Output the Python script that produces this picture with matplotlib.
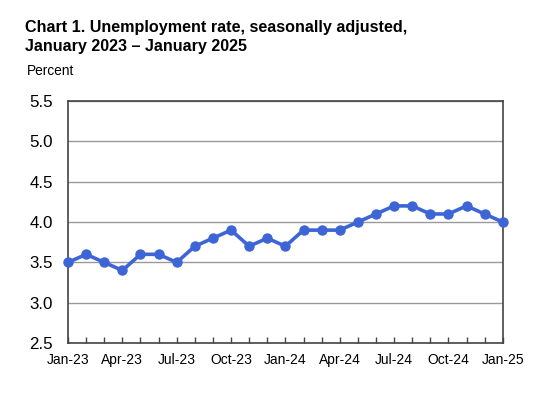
import matplotlib
matplotlib.use('Agg')
import matplotlib.pyplot as plt

months = ['Jan-23', 'Feb-23', 'Mar-23', 'Apr-23', 'May-23', 'Jun-23', 'Jul-23',
          'Aug-23', 'Sep-23', 'Oct-23', 'Nov-23', 'Dec-23', 'Jan-24', 'Feb-24',
          'Mar-24', 'Apr-24', 'May-24', 'Jun-24', 'Jul-24', 'Aug-24', 'Sep-24',
          'Oct-24', 'Nov-24', 'Dec-24', 'Jan-25']
rate = [3.5, 3.6, 3.5, 3.4, 3.6, 3.6, 3.5, 3.7, 3.8, 3.9, 3.7, 3.8, 3.7,
        3.9, 3.9, 3.9, 4.0, 4.1, 4.2, 4.2, 4.1, 4.1, 4.2, 4.1, 4.0]
yticks = [2.5, 3.0, 3.5, 4.0, 4.5, 5.0, 5.5]

plt.rcParams['font.family'] = ['Liberation Sans', 'DejaVu Sans']

fig = plt.figure(figsize=(5.4, 3.93), dpi=100)
ax = fig.add_axes([0.126, 0.127, 0.805, 0.616])

x = list(range(len(months)))
ax.plot(x, rate, color='#3d65d6', lw=2.6, marker='o', ms=6.5, clip_on=False, zorder=3)

ax.set_xlim(0, len(months) - 1)
ax.set_ylim(2.5, 5.5)
ax.set_yticks(yticks)
ax.set_yticklabels(['%.1f' % v for v in yticks], fontsize=12.2)
ax.tick_params(axis='y', length=0, pad=11)
ax.set_xticks(x)
ax.set_xticklabels([m if i % 3 == 0 else '' for i, m in enumerate(months)], fontsize=10)
ax.tick_params(axis='x', direction='in', length=4, width=1, color='#444444', pad=7)
ax.grid(axis='y', color='#999999', lw=1)
for s in ax.spines.values():
    s.set_color('#444444')
    s.set_linewidth(1.2)

# title, two lines placed by baseline
fig.text(0.046, 1 - 32 / 393, 'Chart 1. Unemployment rate, seasonally adjusted,',
         fontsize=11.6, fontweight='bold', va='baseline')
fig.text(0.046, 1 - 51 / 393, 'January 2023 \u2013 January 2025',
         fontsize=11.6, fontweight='bold', va='baseline')
fig.text(0.049, 1 - 75 / 393, 'Percent', fontsize=9.9, va='baseline')

fig.savefig('out.png', dpi=100)
